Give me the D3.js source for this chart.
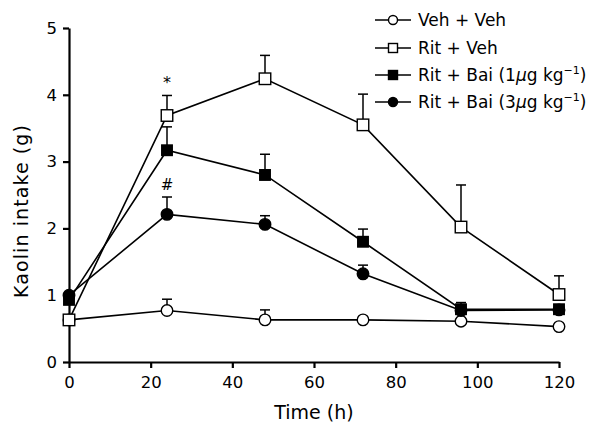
<!DOCTYPE html>
<html><head><meta charset="utf-8">
<script src="https://cdn.jsdelivr.net/npm/d3@7"></script>
<style>
body{margin:0;background:#fff;}
text{font-family:"DejaVu Sans",sans-serif;fill:#000;}
</style></head>
<body><svg id="c" width="600" height="438"></svg>
<script>
const times = [0, 24, 48, 72, 96, 120];
const vehVeh = [0.63, 0.77, 0.63, 0.63, 0.61, 0.53];
const vehVehErr = [0.03, 0.17, 0.15, 0.03, 0.03, 0.03];
const ritVeh = [0.63, 3.69, 4.24, 3.55, 2.02, 1.01];
const ritVehErr = [0.03, 0.30, 0.35, 0.46, 0.63, 0.28];
const ritBai1 = [0.93, 3.17, 2.80, 1.80, 0.79, 0.79];
const ritBai1Err = [0.03, 0.35, 0.31, 0.19, 0.10, 0.03];
const ritBai3 = [1.00, 2.21, 2.06, 1.32, 0.77, 0.78];
const ritBai3Err = [0.03, 0.26, 0.13, 0.13, 0.08, 0.03];
const xTicks = [0, 20, 40, 60, 80, 100, 120];
const yTicks = [0, 1, 2, 3, 4, 5];
const legendLabels = ["Veh + Veh", "Rit + Veh", "Rit + Bai (1", "Rit + Bai (3"];
const annotations = [{t: 24, series: "ritVeh", text: "*"}, {t: 24, series: "ritBai3", text: "#"}];

const FONT = "DejaVu Sans";
const svg = d3.select("#c");
const x = d3.scaleLinear().domain([0, 120]).range([69, 559]);
const y = d3.scaleLinear().domain([0, 5]).range([362, 28]);

// axes
const xa = svg.append("g").attr("transform", "translate(0,362)")
  .call(d3.axisBottom(x).tickValues(xTicks).tickFormat(d3.format("d")).tickSize(6).tickSizeOuter(0).tickPadding(6));
const ya = svg.append("g").attr("transform", "translate(69,0)")
  .call(d3.axisLeft(y).tickValues(yTicks).tickFormat(d3.format("d")).tickSize(6).tickSizeOuter(0).tickPadding(6));
[xa, ya].forEach(g => {
  g.attr("font-family", FONT).attr("font-size", 16.5);
  g.select(".domain").attr("stroke", "#000").attr("stroke-width", 2.2);
  g.selectAll(".tick line").attr("stroke", "#000").attr("stroke-width", 2.2);
  g.selectAll(".tick text").attr("fill", "#000");
});
xa.selectAll(".tick text").attr("dy", "0.85em");

svg.append("text").attr("x", 314).attr("y", 419).attr("text-anchor", "middle")
  .attr("font-size", 19).text("Time (h)");
svg.append("text").attr("transform", "translate(28,211) rotate(-90)").attr("text-anchor", "middle")
  .attr("font-size", 19).attr("letter-spacing", 1.1).text("Kaolin intake (g)");

const series = [
  {key: "vehVeh", vals: vehVeh, err: vehVehErr, shape: "circle", fill: "#fff"},
  {key: "ritBai3", vals: ritBai3, err: ritBai3Err, shape: "circle", fill: "#000"},
  {key: "ritBai1", vals: ritBai1, err: ritBai1Err, shape: "square", fill: "#000"},
  {key: "ritVeh", vals: ritVeh, err: ritVehErr, shape: "square", fill: "#fff"}
];
const line = d3.line().x((d, i) => x(times[i])).y(d => y(d));

// error bars first
series.forEach(s => {
  const g = svg.append("g");
  times.forEach((t, i) => {
    const top = y(s.vals[i] + s.err[i]);
    g.append("line").attr("x1", x(t)).attr("x2", x(t)).attr("y1", y(s.vals[i])).attr("y2", top)
      .attr("stroke", "#000").attr("stroke-width", 1.5);
    g.append("line").attr("x1", x(t) - 5).attr("x2", x(t) + 5).attr("y1", top).attr("y2", top)
      .attr("stroke", "#000").attr("stroke-width", 1.5);
  });
});
function marker(g, cx, cy, shape, fill, size) {
  if (shape === "circle") {
    g.append("circle").attr("cx", cx).attr("cy", cy).attr("r", size / 2)
      .attr("fill", fill).attr("stroke", "#000").attr("stroke-width", 1.4);
  } else {
    g.append("rect").attr("x", cx - size / 2).attr("y", cy - size / 2).attr("width", size).attr("height", size)
      .attr("fill", fill).attr("stroke", "#000").attr("stroke-width", 1.4);
  }
}
series.forEach(s => {
  const g = svg.append("g");
  g.append("path").attr("d", line(s.vals)).attr("fill", "none").attr("stroke", "#000").attr("stroke-width", 1.6);
  times.forEach((t, i) => marker(g, x(t), y(s.vals[i]), s.shape, s.fill, s.shape === "circle" ? 11.5 : (s.fill === "#000" ? 10.5 : 11.5)));
});

// annotations
const byKey = {};
series.forEach(s => byKey[s.key] = s);
annotations.forEach(a => {
  const s = byKey[a.series];
  const i = times.indexOf(a.t);
  svg.append("text").attr("x", x(a.t)).attr("y", y(s.vals[i] + s.err[i]) - 7)
    .attr("text-anchor", "middle").attr("font-size", a.text === "*" ? 16 : 15).text(a.text);
});

// legend
const legendOrder = ["vehVeh", "ritVeh", "ritBai1", "ritBai3"];
const rowsY = [20, 48, 75, 102];
legendOrder.forEach((k, i) => {
  const s = byKey[k];
  const g = svg.append("g");
  g.append("line").attr("x1", 375).attr("x2", 411).attr("y1", rowsY[i]).attr("y2", rowsY[i])
    .attr("stroke", "#000").attr("stroke-width", 1.6);
  marker(g, 393, rowsY[i], s.shape, s.fill, 9);
  const t = g.append("text").attr("x", 418).attr("y", rowsY[i] + 6).attr("font-size", 17);
  t.append("tspan").text(legendLabels[i]);
  if (i >= 2) {
    t.append("tspan").style("font-style", "italic").text("\u03bc");
    t.append("tspan").text("g kg");
    t.append("tspan").attr("dy", -7).attr("font-size", 11).text("\u22121");
    t.append("tspan").attr("dy", 7).text(")");
  }
});
</script></body></html>
